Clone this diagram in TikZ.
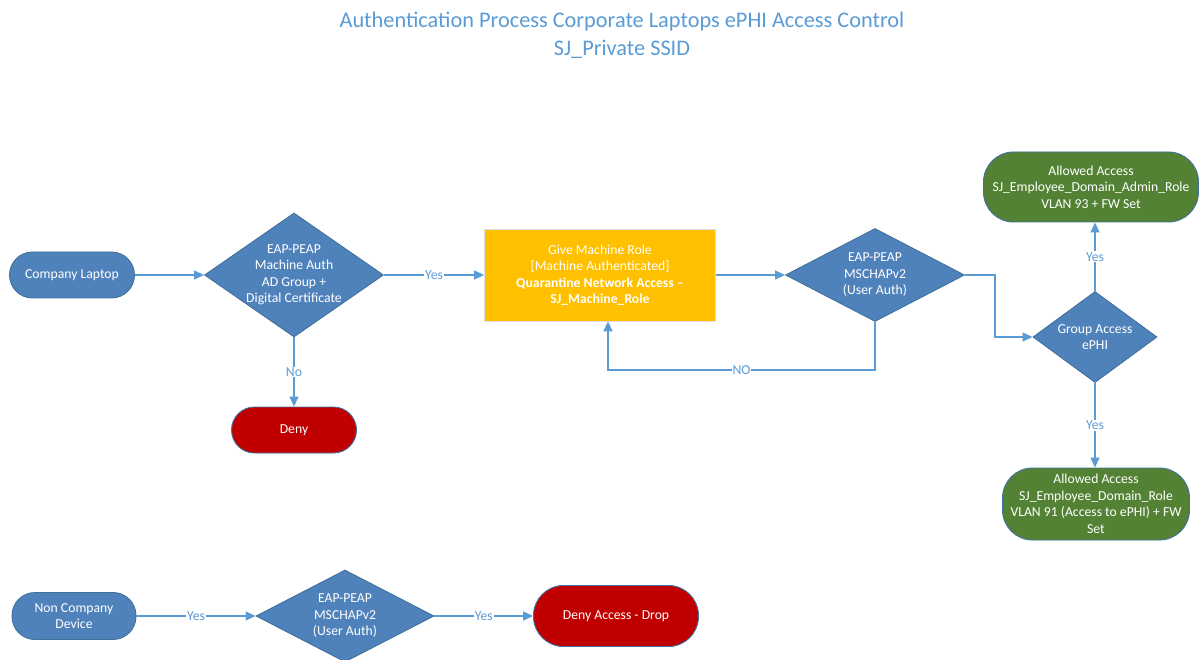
\documentclass[tikz,border=0pt]{standalone}
\usepackage{fontspec}
\setmainfont{Carlito}
\usetikzlibrary{shapes.geometric,arrows.meta}
\definecolor{lineblue}{RGB}{91,155,213}
\definecolor{shapeblue}{RGB}{79,130,187}
\definecolor{edgeblue}{RGB}{65,113,156}
\definecolor{denyred}{RGB}{192,0,0}
\definecolor{okgreen}{RGB}{84,130,53}
\definecolor{roleyellow}{RGB}{255,192,0}
\tikzset{
  x=1pt, y=-1pt,
  bodyfont/.style={font=\fontsize{13.7}{16.5}\selectfont},
  pill/.style={rectangle, rounded corners=#1, draw=edgeblue, line width=0.9pt,
    inner sep=0pt, text=white, align=center, bodyfont},
  pill/.default=23pt,
  decision/.style={diamond, draw=edgeblue, line width=0.9pt, fill=shapeblue,
    inner sep=0pt, aspect=1.4},
  inner/.style={text=white, align=center, bodyfont},
  flow/.style={draw=lineblue, line width=1.4pt, -{Triangle[length=10pt,width=9pt]}},
  tag/.style={fill=white, text=lineblue, inner sep=1pt, bodyfont},
}
\begin{document}
\begin{tikzpicture}
\useasboundingbox (0,0) rectangle (1199,660);

% heading
\node[text=lineblue, align=center, font=\fontsize{22.3}{28}\selectfont] (title) at (622,35)
  {Authentication Process Corporate Laptops ePHI Access Control\\SJ\_Private SSID};

% corporate laptop path
\node[pill, fill=shapeblue, minimum width=125pt, minimum height=46pt] (cl) at (72,275) {Company Laptop};
\node[decision, minimum width=179pt, minimum height=124pt,
  label={[inner]center:{EAP-PEAP\\Machine Auth\\AD Group +\\Digital Certificate}}] (d1) at (294,275) {};
\node[pill, fill=denyred, minimum width=125pt, minimum height=46pt] (deny) at (294,430) {Deny};
\node[rectangle, fill=roleyellow, draw=gray!25, line width=0.8pt, inner sep=0pt,
  minimum width=231pt, minimum height=92pt, inner] (yb) at (600,275)
  {Give Machine Role\\{}[Machine Authenticated]\\\textbf{Quarantine Network Access –}\\\textbf{SJ\_Machine\_Role}};
\node[decision, minimum width=179pt, minimum height=93pt,
  label={[inner]center:{EAP-PEAP\\MSCHAPv2\\(User Auth)}}] (d2) at (875,275) {};
\node[decision, minimum width=124pt, minimum height=91pt,
  label={[inner]center:{Group Access\\ePHI}}] (d3) at (1095,337) {};
\node[pill=30pt, fill=okgreen, minimum width=215pt, minimum height=70pt] (g1) at (1091,187)
  {Allowed Access\\SJ\_Employee\_Domain\_Admin\_Role\\VLAN 93 + FW Set};
\node[pill=30pt, fill=okgreen, minimum width=187pt, minimum height=72pt] (g2) at (1096,504)
  {Allowed Access\\SJ\_Employee\_Domain\_Role\\VLAN 91 (Access to ePHI) + FW\\Set};
\coordinate (back) at (608,370);

\draw[flow] (cl.east) -- (d1.west);
\draw[flow] (d1.east) -- node[tag]{Yes} (yb.west);
\draw[flow] (d1.south) -- node[tag]{No} (deny.north);
\draw[flow] (yb.east) -- (d2.west);
\draw[flow] (d2.east) -- ++(30,0) |- (d3.west);
\draw[flow] (d2.south) |- node[tag, pos=0.75]{NO} (back) -- (yb.south -| back);
\draw[flow] (d3.north) -- node[tag]{Yes} (d3.north |- g1.south);
\draw[flow] (d3.south) -- node[tag]{Yes} (d3.south |- g2.north);

% non-company device path
\node[pill, fill=shapeblue, minimum width=124pt, minimum height=47pt] (ncd) at (74,616) {Non Company\\Device};
\node[decision, minimum width=178pt, minimum height=92pt,
  label={[inner]center:{EAP-PEAP\\MSCHAPv2\\(User Auth)}}] (d4) at (345,616) {};
\node[pill=30pt, fill=denyred, minimum width=165pt, minimum height=61pt] (drop) at (616,616) {Deny Access - Drop};

\draw[flow] (ncd.east) -- node[tag]{Yes} (d4.west);
\draw[flow] (d4.east) -- node[tag]{Yes} (drop.west);
\end{tikzpicture}
\end{document}
